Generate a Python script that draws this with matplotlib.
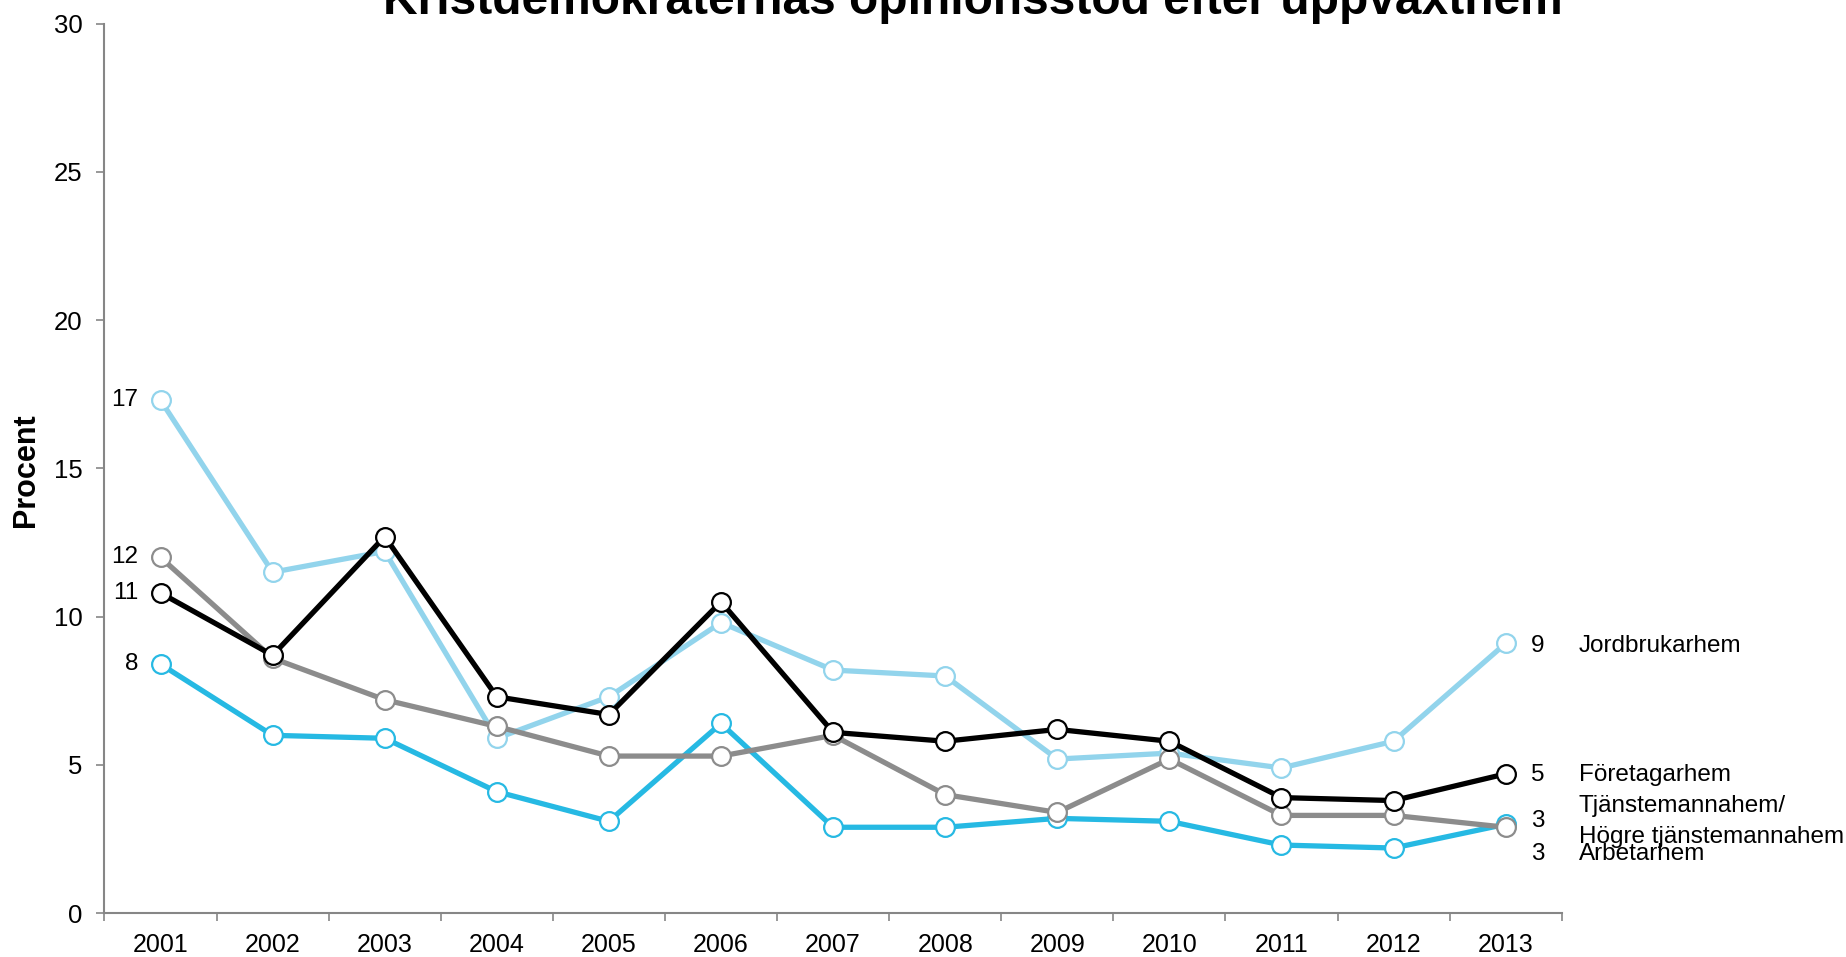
import matplotlib
matplotlib.use("Agg")
import matplotlib.pyplot as plt
import numpy as np

plt.rcParams['font.family'] = ['Liberation Sans', 'DejaVu Sans']

years = ["2001", "2002", "2003", "2004", "2005", "2006", "2007",
         "2008", "2009", "2010", "2011", "2012", "2013"]

jordbrukarhem = [17.3, 11.5, 12.2, 5.9, 7.3, 9.8, 8.2, 8.0, 5.2, 5.4, 4.9, 5.8, 9.1]
foretagarhem = [10.8, 8.7, 12.7, 7.3, 6.7, 10.5, 6.1, 5.8, 6.2, 5.8, 3.9, 3.8, 4.7]
tjanstemannahem = [12.0, 8.6, 7.2, 6.3, 5.3, 5.3, 6.0, 4.0, 3.4, 5.2, 3.3, 3.3, 2.9]
arbetarhem = [8.4, 6.0, 5.9, 4.1, 3.1, 6.4, 2.9, 2.9, 3.2, 3.1, 2.3, 2.2, 3.0]

first_labels = ["17", "12", "11", "8"]
last_labels = ["9", "5", "3", "3"]
names = ["Jordbrukarhem", "Företagarhem", "Tjänstemannahem/\nHögre tjänstemannahem", "Arbetarhem"]

title = "Kristdemokraternas opinionsstöd efter uppväxthem"
ylabel = "Procent"

c_light = "#92D4EC"
c_black = "#000000"
c_gray = "#8C8C8C"
c_blue = "#26B9E3"

fig = plt.figure(figsize=(18.46, 9.57), dpi=100)
ax = fig.add_axes([0.0566, 0.0457, 0.7894, 0.9297])

x = np.arange(len(years))
series = [
    (jordbrukarhem, c_light, 2),
    (arbetarhem, c_blue, 3),
    (tjanstemannahem, c_gray, 4),
    (foretagarhem, c_black, 5),
]
for vals, col, z in series:
    ax.plot(x, vals, color=col, lw=3.8, marker='o', ms=13.5, mfc='white',
            mec=col, mew=1.6, zorder=z, solid_joinstyle='miter')

ax.set_xlim(-0.5, len(years) - 0.5)
ax.set_ylim(0, 30)
ax.set_yticks(np.arange(0, 31, 5))
ax.tick_params(axis='y', labelsize=18.5, length=6, width=1.2, color='#868686', pad=10)

ax.set_xticks(np.arange(-0.5, len(years), 1.0))
ax.set_xticklabels([])
ax.tick_params(axis='x', which='major', length=6, width=1.2, color='#868686')
ax.set_xticks(x, minor=True)
ax.set_xticklabels(years, minor=True)
ax.tick_params(axis='x', which='minor', length=0, labelsize=18, pad=14)

for s in ['top', 'right']:
    ax.spines[s].set_visible(False)
for s in ['left', 'bottom']:
    ax.spines[s].set_color('#868686')
    ax.spines[s].set_linewidth(1.5)

fig.text(26 / 1846, 1 - 470 / 957, ylabel, rotation=90, ha='center', va='center',
         fontsize=22, fontweight='bold')

# first-point labels
for vals, lab in zip([jordbrukarhem, tjanstemannahem, foretagarhem, arbetarhem], first_labels):
    ax.annotate(lab, (x[0], vals[0]), xytext=(-16, 0), textcoords='offset points',
                ha='right', va='center', fontsize=17.5)

# last-point labels and names (baseline offsets in points)
last_series = [jordbrukarhem, foretagarhem, tjanstemannahem, arbetarhem]
num_offsets = [-6.2, -5.2, 0.4, -25.7]
name_offsets = [[-6.2], [-5.2], [10.8, -11.5], [-25.7]]
for vals, lab, nm, dy, dyn in zip(last_series, last_labels, names, num_offsets, name_offsets):
    ax.annotate(lab, (x[-1], vals[-1]), xytext=(18, dy), textcoords='offset points',
                ha='left', va='baseline', fontsize=17.5, annotation_clip=False)
    for line, off in zip(nm.split("\n"), dyn):
        ax.annotate(line, (x[-1], vals[-1]), xytext=(52.5, off), textcoords='offset points',
                    ha='left', va='baseline', fontsize=17.5, annotation_clip=False)

fig.text(0.527, 0.985, title, ha='center', va='baseline', fontsize=34.5,
         fontweight='bold')

fig.savefig("out.png", dpi=100)
